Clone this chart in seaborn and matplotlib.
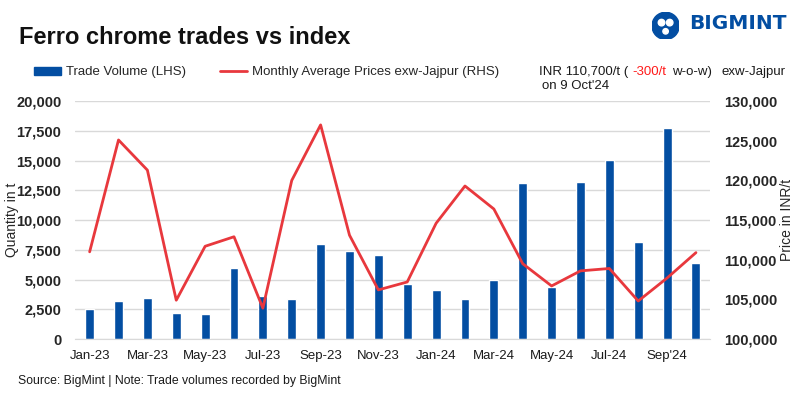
import numpy as np
import pandas as pd
import seaborn as sns
import matplotlib.pyplot as plt
from matplotlib.patches import Patch, Circle
from matplotlib.lines import Line2D
from matplotlib.ticker import FuncFormatter

sns.set_style('white')
plt.rcParams['font.family'] = ['Liberation Sans', 'DejaVu Sans']

# data
months = ['Jan-23', 'Feb-23', 'Mar-23', 'Apr-23', 'May-23', 'Jun-23', 'Jul-23', 'Aug-23',
          'Sep-23', 'Oct-23', 'Nov-23', 'Dec-23', 'Jan-24', 'Feb-24', 'Mar-24', 'Apr-24',
          'May-24', 'Jun-24', 'Jul-24', 'Aug-24', 'Sep-24', 'Oct-24']
tick_labels = ['Jan-23', 'Mar-23', 'May-23', 'Jul-23', 'Sep-23', 'Nov-23',
               'Jan-24', 'Mar-24', 'May-24', 'Jul-24', "Sep'24"]
volume = [2500, 3200, 3450, 2200, 2100, 6000, 3600, 3400, 8000, 7400, 7100, 4650,
          4150, 3400, 5000, 13100, 4350, 13200, 15050, 8200, 17750, 6400]
price = [111000, 125100, 121300, 104900, 111700, 112900, 103900, 120000, 127000, 113100,
         106200, 107200, 114600, 119300, 116400, 109500, 106700, 108600, 108900, 104800,
         107700, 110900]

bar_blue = '#034ea2'
line_red = '#e8383d'

df = pd.DataFrame({'month': months, 'volume': volume, 'price': price})
df['pos'] = np.arange(len(df))

fig = plt.figure(figsize=(8, 3.98), dpi=100)
ax = fig.add_axes([0.094, 0.148, 0.794, 0.598])

sns.barplot(data=df, x='month', y='volume', color=bar_blue, width=0.31,
            saturation=1, ax=ax, zorder=2)
ax.set_ylim(0, 20000)
ax.set_xlim(-0.5, len(df) - 0.5)
ax.set_yticks(np.arange(0, 20001, 2500))
ax.yaxis.set_major_formatter(FuncFormatter(lambda v, p: f'{int(v):,}'))
ax.grid(axis='y', color='#d9d9d9', linewidth=1, zorder=0)
ax.set_axisbelow(True)
for s in ['top', 'right', 'left']:
    ax.spines[s].set_visible(False)
ax.spines['bottom'].set_color('#d9d9d9')

ax.set_xticks(np.arange(0, len(df), 2))
ax.set_xticklabels(tick_labels, fontsize=9.5, color='#1a1a1a')
ax.set_xticks(np.arange(-0.5, len(df), 1), minor=True)
ax.tick_params(axis='x', which='major', length=0, pad=8)
ax.tick_params(axis='x', which='minor', length=5, color='#d9d9d9', width=1)
ax.tick_params(axis='y', length=0, labelsize=10.5, pad=10)
for t in ax.get_yticklabels():
    t.set_fontweight('bold')
ax.set_xlabel('')
ax.set_ylabel('Quantity in t', fontsize=10, labelpad=0)
ax.yaxis.set_label_coords(-0.088, 0.5)

ax2 = ax.twinx()
sns.lineplot(data=df, x='pos', y='price', color=line_red, linewidth=2, ax=ax2)
ax2.set_ylim(100000, 130000)
ax2.set_yticks(np.arange(100000, 130001, 5000))
ax2.yaxis.set_major_formatter(FuncFormatter(lambda v, p: f'{int(v):,}'))
ax2.tick_params(axis='y', length=0, labelsize=10.5, pad=10)
for t in ax2.get_yticklabels():
    t.set_fontweight('bold')
for s in ax2.spines.values():
    s.set_visible(False)
ax2.set_ylabel('Price in INR/t', fontsize=10, labelpad=2)
ax2.set_xlabel('')

# title, legend, notes
fig.text(0.024, 0.905, 'Ferro chrome trades vs index', fontsize=17, fontweight='bold',
         va='center', color='#111111')
handles = [Patch(color=bar_blue), Line2D([0], [0], color=line_red, linewidth=2)]
fig.legend(handles, ['Trade Volume (LHS)', 'Monthly Average Prices exw-Jajpur (RHS)'],
           loc='center left', bbox_to_anchor=(0.028, 0.818), ncol=2, frameon=False,
           fontsize=9.5, handlelength=2.0, handleheight=0.5, columnspacing=2.6,
           handletextpad=0.4)
fig.text(0.674, 0.818, 'INR 110,700/t (', fontsize=9.5, va='center', color='#1a1a1a')
fig.text(0.79, 0.818, '-300/t', fontsize=9.5, va='center', color='#ff1a1a')
fig.text(0.84, 0.818, 'w-o-w)', fontsize=9.5, va='center', color='#1a1a1a')
fig.text(0.9025, 0.818, 'exw-Jajpur', fontsize=9.5, va='center', color='#1a1a1a')
fig.text(0.678, 0.784, "on 9 Oct'24", fontsize=9.5, va='center', color='#1a1a1a')
fig.text(0.022, 0.042, 'Source: BigMint | Note: Trade volumes recorded by BigMint',
         fontsize=8.8, va='center', color='#1a1a1a')

# logo
lax = fig.add_axes([0.815, 0.895, 0.034, 0.08])
lax.set_aspect('equal')
lax.add_patch(Circle((0.5, 0.5), 0.5, color=bar_blue))
lax.add_patch(Circle((0.35, 0.62), 0.12, color='white'))
lax.add_patch(Circle((0.65, 0.62), 0.12, color='white'))
lax.add_patch(Circle((0.5, 0.3), 0.1, color='white'))
lax.set_xlim(0, 1)
lax.set_ylim(0, 1)
lax.axis('off')
fig.text(0.861, 0.94, 'BIGMINT', fontsize=14.5, fontweight='bold', color=bar_blue,
         family='DejaVu Sans', va='center')

fig.savefig('out.png', dpi=100)
